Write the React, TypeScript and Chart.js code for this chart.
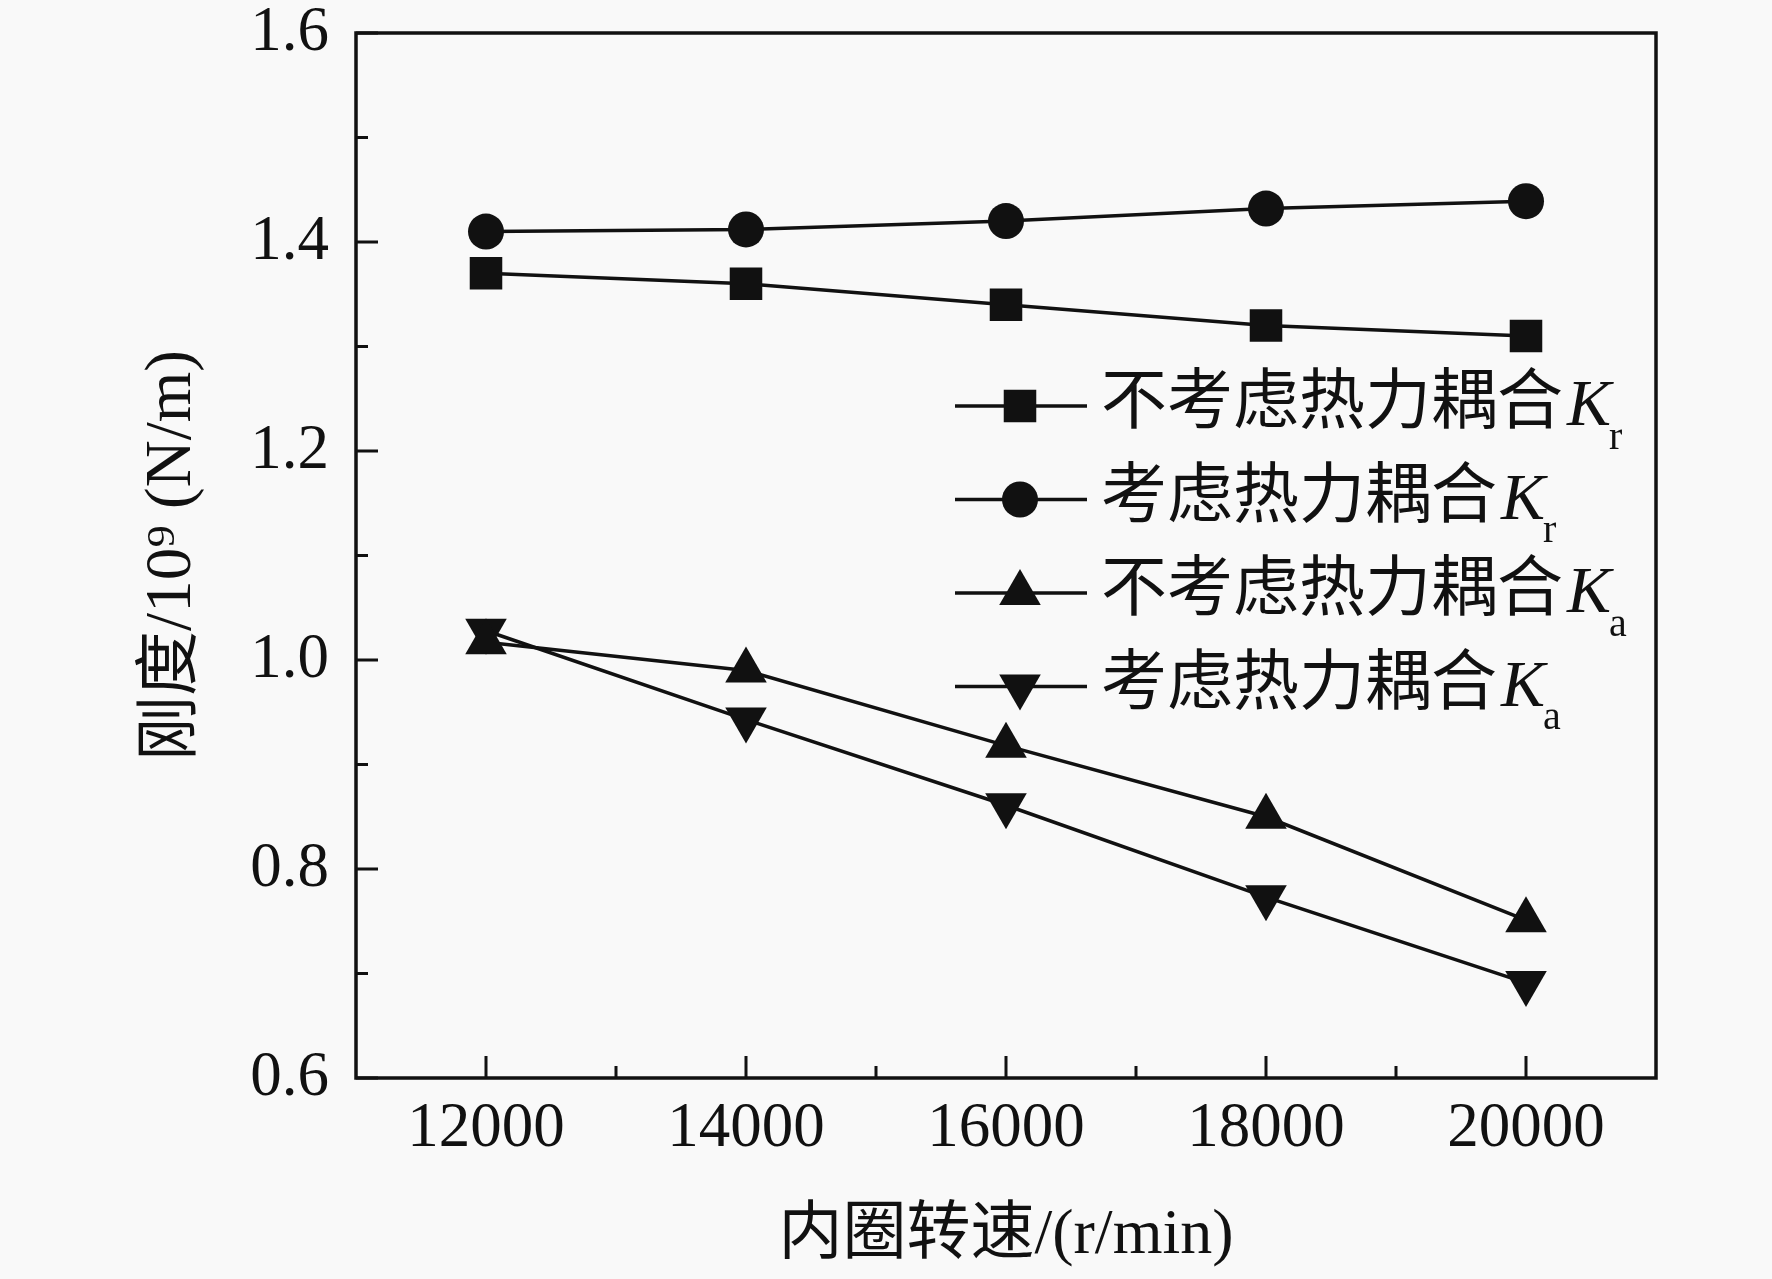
import React, { useEffect, useRef } from 'react';
import { Chart, registerables } from 'chart.js';
import { drawPoint } from 'chart.js/helpers';

Chart.register(...registerables);

// 内圈转速 (r/min)
const speeds = [12000, 14000, 16000, 18000, 20000];
// 刚度 / 10^9 (N/m)
const krUncoupled = [1.37, 1.36, 1.34, 1.32, 1.31];
const krCoupled = [1.41, 1.412, 1.42, 1.432, 1.439];
const kaUncoupled = [1.017, 0.99, 0.918, 0.85, 0.751];
const kaCoupled = [1.028, 0.943, 0.861, 0.773, 0.691];

const seriesNames = ['不考虑热力耦合', '考虑热力耦合', '不考虑热力耦合', '考虑热力耦合'];
const seriesSubs = ['r', 'r', 'a', 'a'];

const xTicks = [12000, 14000, 16000, 18000, 20000];
const xMinorTicks = [13000, 15000, 17000, 19000];
const yTicks = [0.6, 0.8, 1.0, 1.2, 1.4, 1.6];
const yMinorTicks = [0.7, 0.9, 1.1, 1.3, 1.5];

const W = 1772;
const H = 1279;
const INK = '#111111';
const BG = '#f9f9f9';
const SERIF = '"Liberation Serif", "Noto Sans CJK SC"';

const toPoints = (ys: number[]) => speeds.map((x, i) => ({ x, y: ys[i] }));

// box frame + inward ticks (Origin style)
const frameTicks = {
  id: 'frameTicks',
  afterDraw(chart: any) {
    const { ctx, chartArea: a } = chart;
    const xs = chart.scales.x;
    const ys = chart.scales.y;
    ctx.save();
    ctx.strokeStyle = INK;
    ctx.lineWidth = 3.5;
    ctx.strokeRect(a.left, a.top, a.right - a.left, a.bottom - a.top);
    ctx.lineWidth = 3;
    ctx.beginPath();
    xTicks.forEach(v => {
      const p = xs.getPixelForValue(v);
      ctx.moveTo(p, a.bottom);
      ctx.lineTo(p, a.bottom - 22);
    });
    xMinorTicks.forEach(v => {
      const p = xs.getPixelForValue(v);
      ctx.moveTo(p, a.bottom);
      ctx.lineTo(p, a.bottom - 12);
    });
    yTicks.forEach(v => {
      const p = ys.getPixelForValue(v);
      ctx.moveTo(a.left, p);
      ctx.lineTo(a.left + 22, p);
    });
    yMinorTicks.forEach(v => {
      const p = ys.getPixelForValue(v);
      ctx.moveTo(a.left, p);
      ctx.lineTo(a.left + 12, p);
    });
    ctx.stroke();
    ctx.restore();
  },
};

// legend with italic K and subscript
const subLegend = {
  id: 'subLegend',
  afterDraw(chart: any) {
    const { ctx } = chart;
    ctx.save();
    chart.data.datasets.forEach((ds: any, i: number) => {
      const y = 406 + i * 93.5;
      ctx.strokeStyle = INK;
      ctx.fillStyle = INK;
      ctx.lineWidth = 3.5;
      ctx.beginPath();
      ctx.moveTo(955, y);
      ctx.lineTo(1087, y);
      ctx.stroke();
      drawPoint(ctx, {
        pointStyle: ds.pointStyle,
        radius: ds.pointRadius,
        rotation: ds.pointRotation || 0,
        borderWidth: 0,
      } as any, 1020, y);
      ctx.textBaseline = 'middle';
      ctx.textAlign = 'left';
      ctx.font = `66px ${SERIF}`;
      let x = 1101;
      ctx.fillText(seriesNames[i], x, y);
      x += ctx.measureText(seriesNames[i]).width + 4;
      ctx.font = 'italic 66px "Liberation Serif"';
      ctx.fillText('K', x, y + 2);
      x += ctx.measureText('K').width - 2;
      ctx.font = '40px "Liberation Serif"';
      ctx.fillText(seriesSubs[i], x, y + 32);
    });
    ctx.restore();
  },
};

const makeSet = (label: string, ys: number[], style: string, radius: number, rotation = 0) => ({
  label,
  data: toPoints(ys),
  showLine: true,
  borderColor: INK,
  backgroundColor: INK,
  borderWidth: 3.5,
  pointStyle: style,
  pointRadius: radius,
  pointRotation: rotation,
  pointBorderWidth: 0,
  pointBackgroundColor: INK,
});

export default function App() {
  const canvasRef = useRef<HTMLCanvasElement>(null);

  useEffect(() => {
    if (!canvasRef.current) return;
    const chart = new Chart(canvasRef.current, {
      type: 'scatter',
      data: {
        datasets: [
          makeSet('不考虑热力耦合Kr', krUncoupled, 'rect', 23),
          makeSet('考虑热力耦合Kr', krCoupled, 'circle', 18),
          makeSet('不考虑热力耦合Ka', kaUncoupled, 'triangle', 24),
          makeSet('考虑热力耦合Ka', kaCoupled, 'triangle', 24, 180),
        ],
      },
      options: {
        animation: false,
        responsive: false,
        layout: { padding: { top: 33, right: 116, bottom: 0, left: 0 } },
        plugins: {
          legend: { display: false },
          tooltip: { enabled: false },
        },
        scales: {
          x: {
            type: 'linear',
            min: 11000,
            max: 21000,
            afterBuildTicks: (s: any) => { s.ticks = xTicks.map(value => ({ value })); },
            afterFit: (s: any) => {
              s.height = 201;
              s.paddingLeft = 0;
              s.paddingRight = 0;
            },
            grid: { display: false, drawTicks: false },
            border: { display: false },
            ticks: {
              color: INK,
              padding: 14,
              maxRotation: 0,
              font: { family: SERIF, size: 63 },
              callback: (v: any) => String(v),
            },
            title: {
              display: true,
              text: '内圈转速/(r/min)',
              color: INK,
              font: { family: SERIF, size: 64 },
              padding: { top: 0, bottom: 4 },
            },
          },
          y: {
            type: 'linear',
            min: 0.6,
            max: 1.6,
            afterBuildTicks: (s: any) => { s.ticks = yTicks.map(value => ({ value })); },
            afterFit: (s: any) => {
              s.width = 356;
              s.paddingTop = 0;
              s.paddingBottom = 0;
            },
            grid: { display: false, drawTicks: false },
            border: { display: false },
            ticks: {
              color: INK,
              padding: 27,
              font: { family: SERIF, size: 63 },
              callback: (v: any) => Number(v).toFixed(1),
            },
            title: {
              display: true,
              text: '刚度/10⁹ (N/m)',
              color: INK,
              font: { family: SERIF, size: 65 },
              padding: { top: 134, bottom: 0 },
            },
          },
        },
      },
      plugins: [frameTicks, subLegend],
    });
    return () => chart.destroy();
  }, []);

  return (
    <div style={{ position: 'absolute', left: 0, top: 0, width: W, height: H, background: BG }}>
      <canvas ref={canvasRef} width={W} height={H} style={{ display: 'block' }} />
    </div>
  );
}
